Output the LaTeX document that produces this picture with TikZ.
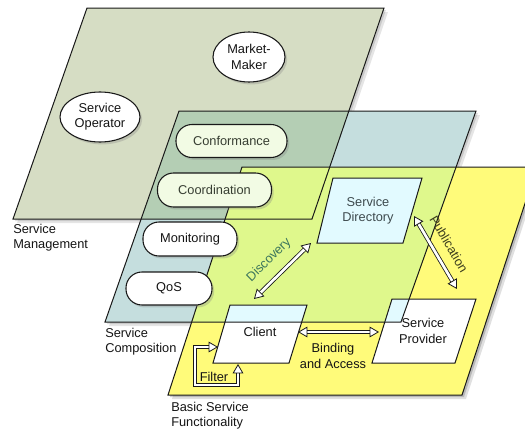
\documentclass[tikz,border=0pt]{standalone}
\usepackage{fontspec}
\setmainfont{Liberation Sans}
\usetikzlibrary{arrows.meta,shapes.geometric,shadows}
\definecolor{cLA}{RGB}{214,221,196}
\definecolor{cLB}{RGB}{197,222,222}
\definecolor{cLAB}{RGB}{180,206,180}
\definecolor{cLC}{RGB}{255,251,122}
\definecolor{cLBC}{RGB}{223,248,140}
\definecolor{cBox}{RGB}{226,250,255}
\definecolor{cConf}{RGB}{242,251,228}
\definecolor{cEdge}{RGB}{25,25,25}
\definecolor{cTxt}{RGB}{20,20,20}
\definecolor{cDisc}{RGB}{60,118,92}
\definecolor{cDir}{RGB}{62,74,78}
\definecolor{cPub}{RGB}{60,62,30}
\definecolor{cConfTxt}{RGB}{55,62,50}
\def\LA{(13,219) -- (312,219) -- (384,8) -- (87,8) -- cycle}
\def\LB{(105,322) -- (401,322) -- (476,111) -- (179,111) -- cycle}
\def\LC{(168,395) -- (462,395) -- (537,167) -- (242,167) -- cycle}
\def\BSD{(317,243) -- (403,243) -- (422,178) -- (333,178) -- cycle}
\def\BCl{(213,363) -- (289,363) -- (307,305) -- (230,305) -- cycle}
\def\BSP{(372,363) -- (455,363) -- (476,299) -- (392,299) -- cycle}
\tikzset{
  edge/.style={draw=cEdge, line width=0.75pt, line join=miter},
  pill/.style={draw=cEdge, line width=0.8pt, fill=white, rounded corners=12pt, inner sep=0pt,
    drop shadow={shadow xshift=1.6pt, shadow yshift=-1.8pt, opacity=0.3}},
  oval/.style={draw=cEdge, line width=0.8pt, fill=white, ellipse, inner sep=0pt,
    drop shadow={shadow xshift=1.6pt, shadow yshift=-1.8pt, opacity=0.3}, align=center},
  hollowtip/.tip={Triangle[fill=white, length=7pt, width=8pt, line width=0.6pt]},
  harrow/.style={draw=cEdge, line width=0.6pt, double=white, double distance=2pt,
    hollowtip-hollowtip},
  lbl/.style={text=cTxt, align=left, anchor=north west, inner sep=0pt},
  btxt/.style={text=cTxt, align=center, inner sep=0pt}
}
\begin{document}
\begin{tikzpicture}[x=0.75pt, y=-0.75pt, font=\fontsize{9.6}{11.4}\selectfont]
\useasboundingbox (0,0) rectangle (525,432);
\clip (0,0) rectangle (525,432);
% layer 1
\fill[black, opacity=0.10, shift={(4,4)}] \LA;
\fill[black, opacity=0.12, shift={(2,2)}] \LA;
\fill[cLA] \LA;
% layer 2
\fill[black, opacity=0.10, shift={(4,4)}] \LB;
\fill[black, opacity=0.12, shift={(2,2)}] \LB;
\fill[cLB] \LB;
\begin{scope}
  \clip \LA;
  \fill[cLAB] \LB;
\end{scope}
% layer 3
\fill[black, opacity=0.12, shift={(4,4)}] \LC;
\fill[black, opacity=0.18, shift={(2,2)}] \LC;
\fill[cLC] \LC;
\begin{scope}
  \clip \LC;
  \fill[cLBC] \LB;
\end{scope}
% boxes fills
\fill[white] \BSD;
\fill[white] \BCl;
\fill[white] \BSP;
\begin{scope}
  \clip \LB;
  \fill[cBox] \BSD;
  \fill[cBox] \BCl;
  \fill[cBox] \BSP;
\end{scope}
% outlines
\draw[edge] \LA;
\draw[edge] \LB;
\draw[edge] \LC;
\draw[edge] \BSD;
\draw[edge] \BCl;
\draw[edge] \BSP;
% box texts
\node[btxt, text=cDir] (sd) at (368,211) {Service\\Directory};
\node[btxt] (client) at (260,332) {Client};
\node[btxt] (sp) at (423,331) {Service\\Provider};
% connector end points
\coordinate (discA) at (254,299);
\coordinate (discB) at (311,243);
\coordinate (pubA) at (414,216);
\coordinate (pubB) at (457,289);
\coordinate (bindA) at (298,332);
\coordinate (bindB) at (379,332);
\coordinate (filtA) at (238,364);
\coordinate (filtB) at (218,347);
\coordinate (filtC) at (238,385);
\coordinate (filtD) at (195,385);
\coordinate (filtE) at (195,347);
% arrows
\draw[harrow] (discA) -- (discB);
\draw[harrow] (pubA) -- (pubB);
\draw[harrow] (bindA) -- (bindB);
\draw[harrow] (filtA) -- (filtC) -- (filtD) -- (filtE) -- (filtB);
% arrow labels
\node[btxt, text=cDisc, rotate=44.5] (discl) at (269,260) {Discovery};
\node[btxt, text=cPub, rotate=-59.5] (publ) at (449,244) {Publication};
\node[btxt] (bindl) at (333,356) {Binding\\and Access};
\node[btxt] (filtl) at (214,377) {Filter};
% layer 2 nodes
\node[pill, minimum width=83.25pt, minimum height=24.75pt, fill=cConf, text=cConfTxt] (conf) at (231.5,141) {Conformance};
\node[pill, minimum width=85.5pt, minimum height=25.5pt, fill=cConf, text=cConfTxt] (coord) at (214.5,190) {Coordination};
\node[pill, minimum width=70.5pt, minimum height=25.5pt, text=cTxt] (mon) at (190,239) {Monitoring};
\node[pill, minimum width=64.5pt, minimum height=24.75pt, text=cTxt] (qos) at (169,288.5) {QoS};
% layer 1 nodes
\node[oval, minimum width=54pt, minimum height=37.5pt, text=cTxt] (mm) at (249,57) {Market-\\Maker};
\node[oval, minimum width=60pt, minimum height=37.5pt, text=cTxt] (so) at (100,117) {Service\\Operator};
% layer labels
\node[lbl] (lman) at (13,224) {Service\\Management};
\node[lbl] (lcomp) at (105,328) {Service\\Composition};
\node[lbl] (lbasic) at (171,402) {Basic Service\\Functionality};
\end{tikzpicture}
\end{document}
